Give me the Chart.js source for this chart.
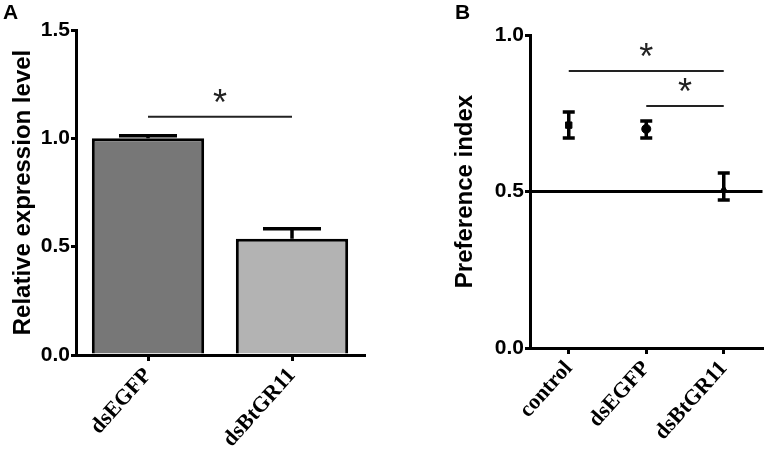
<!DOCTYPE html>
<html>
<head>
<meta charset="utf-8">
<script src="https://cdn.jsdelivr.net/npm/chart.js@4"></script>
<style>
  body { margin: 0; background: #fff; }
  #wrap { position: relative; width: 768px; height: 457px; }
  .panel { position: absolute; top: 0; }
  .lbl { position: absolute; top: 0; font: bold 21px "Liberation Sans", Arial, sans-serif; }
</style>
</head>
<body>
<div id="wrap">
  <div class="panel" style="left:0;width:380px;height:457px"><canvas id="chartA" width="380" height="457"></canvas></div>
  <div class="panel" style="left:440px;width:328px;height:457px"><canvas id="chartB" width="328" height="457"></canvas></div>
  <div class="lbl" style="left:3px">A</div>
  <div class="lbl" style="left:455px">B</div>
</div>
<script>
const catA = ['dsEGFP', 'dsBtGR11'];
const exprMean = [1.0, 0.537];
const exprHigh = [1.012, 0.583];
const sigA = [[0, 1, 1.10]];

const catB = ['control', 'dsEGFP', 'dsBtGR11'];
const prefMean = [0.712, 0.70, 0.505];
const prefHigh = [0.754, 0.725, 0.559];
const prefLow = [0.671, 0.671, 0.473];
const prefRef = [0.5];
const sigB = [[0, 2, 0.885], [1, 2, 0.773]];

const sans = 'Liberation Sans, Arial, sans-serif';
const serif = 'Liberation Serif, Times New Roman, serif';

const overlay = {
  id: 'overlay',
  afterDatasetsDraw(chart, args, o) {
    const ctx = chart.ctx, x = chart.scales.x, y = chart.scales.y, area = chart.chartArea;
    ctx.save();
    ctx.strokeStyle = '#000';
    ctx.lineCap = 'butt';
    ctx.lineWidth = 3;
    (o.ref || []).forEach(v => {
      ctx.beginPath();
      ctx.moveTo(area.left, y.getPixelForValue(v));
      ctx.lineTo(area.right, y.getPixelForValue(v));
      ctx.stroke();
    });
    ctx.lineWidth = o.errWidth;
    o.high.forEach((h, i) => {
      const px = x.getPixelForValue(i);
      const top = y.getPixelForValue(h);
      const bot = y.getPixelForValue(o.low[i]);
      ctx.beginPath();
      ctx.moveTo(px, bot); ctx.lineTo(px, top);
      ctx.moveTo(px - o.cap, top); ctx.lineTo(px + o.cap, top);
      if (o.lowCap) { ctx.moveTo(px - o.cap, bot); ctx.lineTo(px + o.cap, bot); }
      ctx.stroke();
    });
    ctx.lineWidth = 2;
    ctx.strokeStyle = '#222';
    ctx.fillStyle = '#222';
    ctx.font = '36px ' + sans;
    ctx.textAlign = 'center';
    ctx.textBaseline = 'middle';
    o.sig.forEach(s => {
      const x1 = x.getPixelForValue(s[0]), x2 = x.getPixelForValue(s[1]);
      const py = y.getPixelForValue(s[2]);
      ctx.beginPath();
      ctx.moveTo(x1, py); ctx.lineTo(x2, py);
      ctx.stroke();
      ctx.fillText('*', (x1 + x2) / 2, py - 12);
    });
    ctx.restore();
  }
};

function axisY(max, title, width, titlePad) {
  return {
    min: 0, max: max,
    afterFit: s => { s.width = width; },
    border: { display: true, color: '#000', width: 3 },
    grid: { drawOnChartArea: false, color: '#000', lineWidth: 3, tickLength: 5 },
    ticks: { stepSize: 0.5, padding: 1, color: '#000', font: { family: sans, size: 21, weight: 'bold' },
             callback: v => v.toFixed(1) },
    title: { display: true, text: title, color: '#000', padding: { top: titlePad, bottom: 0 },
             font: { family: sans, size: 24, weight: 'bold' } }
  };
}

function axisX(height) {
  return {
    offset: true,
    afterFit: s => { s.height = height; },
    border: { display: true, color: '#000', width: 3 },
    grid: { drawOnChartArea: false, color: '#000', lineWidth: 3, tickLength: 6, offset: false },
    ticks: { minRotation: 48, maxRotation: 48, padding: 2, color: '#000', font: { family: serif, size: 22, weight: 'bold' } }
  };
}

new Chart(document.getElementById('chartA'), {
  type: 'bar',
  data: {
    labels: catA,
    datasets: [{
      data: exprMean,
      backgroundColor: ['#777777', '#b3b3b3'],
      borderColor: '#000',
      borderWidth: 3,
      borderSkipped: 'bottom',
      categoryPercentage: 1,
      barPercentage: 0.78
    }]
  },
  options: {
    responsive: false,
    animation: false,
    layout: { padding: { top: 30, right: 16, left: 0, bottom: 0 } },
    plugins: {
      legend: { display: false },
      tooltip: { enabled: false },
      overlay: { high: exprHigh, low: exprMean, cap: 29, lowCap: false, errWidth: 3.5, sig: sigA }
    },
    scales: { x: axisX(102), y: axisY(1.5, 'Relative expression level', 76, 9) }
  },
  plugins: [overlay]
});

new Chart(document.getElementById('chartB'), {
  type: 'line',
  data: {
    labels: catB,
    datasets: [{
      data: prefMean,
      showLine: false,
      pointStyle: ['rect', 'circle', 'triangle'],
      pointRadius: 4.5,
      backgroundColor: '#000',
      borderColor: '#000',
      borderWidth: 1
    }]
  },
  options: {
    responsive: false,
    animation: false,
    layout: { padding: { top: 35, right: 3, left: 0, bottom: 0 } },
    plugins: {
      legend: { display: false },
      tooltip: { enabled: false },
      overlay: { high: prefHigh, low: prefLow, cap: 6, lowCap: true, errWidth: 3.5, ref: prefRef, sig: sigB }
    },
    scales: { x: axisX(109), y: axisY(1.0, 'Preference index', 90, 11) }
  },
  plugins: [overlay]
});
</script>
</body>
</html>
